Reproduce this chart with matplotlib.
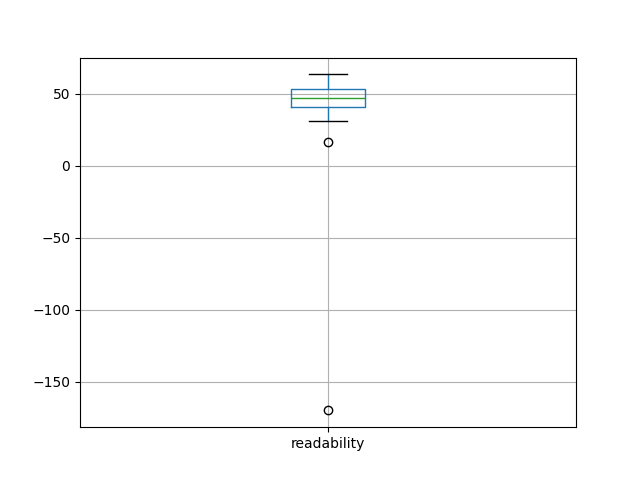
import matplotlib
matplotlib.use("Agg")
import matplotlib.pyplot as plt

# summary
labels = ['readability']
whislo = [31.0]
q1 = [40.8]
med = [47.0]
q3 = [53.0]
whishi = [63.4]
fliers = [[16.7, -169.9]]

stats = []
for i in range(len(labels)):
    stats.append({'label': labels[i], 'whislo': whislo[i], 'q1': q1[i], 'med': med[i],
                  'q3': q3[i], 'whishi': whishi[i], 'fliers': fliers[i]})

fig, ax = plt.subplots(figsize=(6.4, 4.8), dpi=100)
ax.bxp(stats,
       boxprops=dict(color='#1f77b4'),
       whiskerprops=dict(color='#1f77b4'),
       capprops=dict(color='black'),
       medianprops=dict(color='#2ca02c'),
       flierprops=dict(marker='o', markeredgecolor='black', markerfacecolor='none'))
ax.grid(True)
ax.set_axisbelow(True)
fig.savefig('out.png')
